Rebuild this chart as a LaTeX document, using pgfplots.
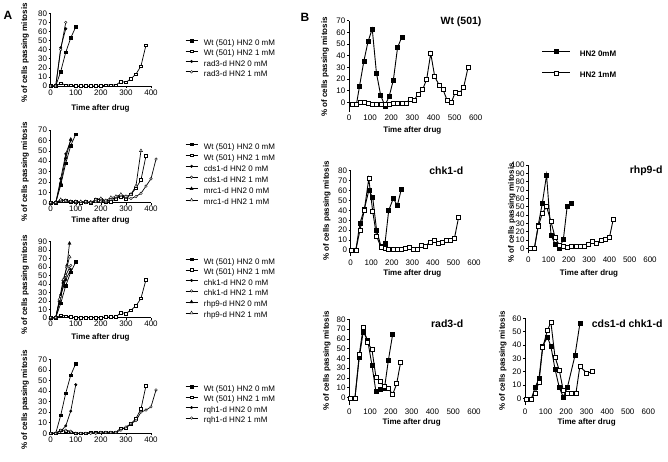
\documentclass[border=0pt]{standalone}
\usepackage{fontspec}
\setmainfont{Liberation Sans}
\usepackage{pgfplots}
\pgfplotsset{compat=1.18}
\pgfplotsset{
 base/.style={scale only axis, axis lines*=left, clip=false,
   tick align=outside, major tick length=2pt,
   tick style={black, line width=0.5pt},
   axis line style={black, line width=0.6pt},
   tick label style={font=\fontsize{8}{9}\selectfont, inner sep=1.5pt},
   /pgf/number format/assume math mode=true,
   legend cell align=left},
 apanel/.style={base, xmin=0, xmax=400, xtick={0,100,...,400}, width=100.3pt, ymin=0,
   every axis plot/.append style={line width=0.7pt},
   legend style={draw=none, fill=none, inner sep=0pt, anchor=north west,
     font=\fontsize{8}{9}\selectfont,
     nodes={inner sep=0pt, text height=6pt, text depth=1.5pt},
     /tikz/every odd column/.append style={column sep=6pt}},
   legend image code/.code={\draw[mark repeat=2, mark phase=2, ##1] plot coordinates {(0pt,2.5pt)(6pt,2.5pt)(12pt,2.5pt)};}},
 bpanel/.style={base, xmin=0, xmax=600, xtick={0,100,...,600},
   x axis line style={draw=none}, xtick style={draw=none},
   every axis plot/.append style={line width=0.9pt}},
 as0/.style={black, mark=square*, mark size=1.3pt, mark options={fill=black, line width=0.4pt}},
 as1/.style={black, mark=square*, mark size=1.3pt, mark options={fill=white, line width=0.4pt}},
 ac0/.style={black, mark=*, mark size=1.3pt, mark options={fill=black, line width=0.4pt}},
 ac1/.style={black, mark=*, mark size=1.3pt, mark options={fill=white, line width=0.4pt}},
 at0/.style={black, mark=triangle*, mark size=1.8pt, mark options={fill=black, line width=0.4pt}},
 at1/.style={black, mark=triangle*, mark size=1.8pt, mark options={fill=white, line width=0.4pt}},
 b0/.style={black, mark=square*, mark size=2pt, mark options={fill=black, line width=0.5pt}},
 b1/.style={black, mark=square*, mark size=2pt, mark options={fill=white, line width=0.5pt}},
}
\newcommand{\lab}{\fontsize{8}{9}\selectfont\bfseries}
\begin{document}
\begin{tikzpicture}
\useasboundingbox (0,0) rectangle (668pt,461pt);
% ---------------- Panel A1
\begin{axis}[apanel, at={(50.7pt,375pt)}, anchor=south west, height=72.7pt,
  ymax=80, ytick={0,10,...,80},
  legend style={at={(axis description cs:1.339,0.644)}, row sep=2.83pt}]
\addplot[as0] coordinates {(0,0)(20,0)(40,16)(60,37)(80,53)(100,65)};
\addplot[as1] coordinates {(0,0)(20,0)(40,3)(60,1)(80,1)(100,0)(120,0)(140,0)(160,0)(180,0)(200,0)(220,1)(240,1)(260,1)(280,5)(300,4)(320,8)(340,13)(360,22)(380,45)};
\addplot[ac0] coordinates {(0,0)(20,0)(40,42)(60,63)};
\addplot[ac1] coordinates {(0,0)(20,0)(40,40)(60,70)};
\legend{Wt (501) HN2 0 mM, Wt (501) HN2 1 mM, rad3-d HN2 0 mM, rad3-d HN2 1 mM}
\end{axis}
% ---------------- Panel A2
\begin{axis}[apanel, at={(50.7pt,258.3pt)}, anchor=south west, height=72.7pt,
  ymax=70, ytick={0,10,...,70},
  legend style={at={(axis description cs:1.339,0.8226)}, row sep=3.4pt}]
\addplot[as0] coordinates {(0,0)(20,0)(40,17)(60,38)(80,55)(100,66)};
\addplot[as1] coordinates {(0,0)(20,0)(40,2)(60,2)(80,1)(100,1)(120,0)(140,1)(160,0)(180,3)(200,3)(220,1)(240,1)(260,4)(280,6)(300,4)(320,8)(340,14)(360,22)(380,45)};
\addplot[ac0] coordinates {(0,0)(20,0)(40,23)(60,47)(80,60)};
\addplot[ac1] coordinates {(0,0)(20,0)(40,2)(60,2)(80,1)(100,0)(120,1)(140,0)(160,1)(180,1)(200,1)(220,1)(240,3)(260,5)(280,7)(300,5)(320,4)(340,6)(360,9)(380,16)(400,23)(420,42)};
\addplot[at0] coordinates {(0,0)(20,0)(40,19)(60,43)(80,61)};
\addplot[at1] coordinates {(0,0)(20,0)(40,3)(60,2)(80,1)(100,1)(120,1)(140,1)(160,0)(180,3)(200,4)(220,2)(240,5)(260,6)(280,8)(300,6)(320,8)(340,16)(360,50)};
\legend{Wt (501) HN2 0 mM, Wt (501) HN2 1 mM, cds1-d HN2 0 mM, cds1-d HN2 1 mM, mrc1-d HN2 0 mM, mrc1-d HN2 1 mM}
\end{axis}
% ---------------- Panel A3
\begin{axis}[apanel, at={(50.7pt,143.3pt)}, anchor=south west, height=76pt,
  ymax=90, ytick={0,10,...,90},
  legend style={at={(axis description cs:1.339,0.787)}, row sep=2.96pt}]
\addplot[as0] coordinates {(0,0)(20,0)(40,17)(60,38)(80,54)(100,66)};
\addplot[as1] coordinates {(0,0)(20,0)(40,3)(60,2)(80,1)(100,0)(120,0)(140,0)(160,0)(180,0)(200,0)(220,1)(240,1)(260,1)(280,6)(300,5)(320,9)(340,14)(360,23)(380,45)};
\addplot[ac0] coordinates {(0,0)(20,0)(40,27)(60,45)(80,57)};
\addplot[ac1] coordinates {(0,0)(20,0)(40,25)(60,50)(80,62)};
\addplot[at0] coordinates {(0,0)(20,0)(35,20)(50,42)(65,62)(75,88)};
\addplot[at1] coordinates {(0,0)(20,0)(35,22)(50,45)(65,60)(75,72)};
\legend{Wt (501) HN2 0 mM, Wt (501) HN2 1  mM, chk1-d HN2 0 mM, chk1-d HN2 1 mM, rhp9-d HN2 0 mM, rhp9-d HN2 1 mM}
\end{axis}
% ---------------- Panel A4
\begin{axis}[apanel, at={(50.7pt,27.7pt)}, anchor=south west, height=74pt,
  ymax=70, ytick={0,10,...,70},
  legend style={at={(axis description cs:1.339,0.650)}, row sep=2.9pt}]
\addplot[as0] coordinates {(0,0)(20,0)(40,17)(60,38)(80,55)(100,66)};
\addplot[as1] coordinates {(0,0)(20,0)(40,3)(60,2)(80,1)(100,0)(120,0)(140,0)(160,1)(180,1)(200,1)(220,1)(240,1)(260,1)(280,5)(300,5)(320,9)(340,14)(360,23)(380,45)};
\addplot[ac0] coordinates {(0,0)(20,0)(40,2)(60,7)(80,21)(100,46)};
\addplot[ac1] coordinates {(0,0)(20,0)(40,3)(60,3)(80,2)(100,0)(120,0)(140,0)(160,0)(180,0)(200,1)(220,1)(240,1)(260,1)(280,3)(300,6)(320,9)(340,12)(360,20)(380,22)(400,25)(420,41)};
\legend{Wt (501) HN2 0 mM, Wt (501) HN2 1 mM, rqh1-d HN2 0 mM, rqh1-d HN2 1 mM}
\end{axis}
% ---------------- Panel B1 Wt (501)
\begin{axis}[bpanel, at={(349pt,349.4pt)}, anchor=south west, width=126.7pt, height=90.9pt,
  ymin=-8, ymax=70, ytick={0,10,...,70},
  legend style={at={(axis description cs:1.521,0.683)}, anchor=north west, draw=none, fill=none, inner sep=0pt,
     font=\fontsize{8}{9}\selectfont\bfseries, row sep=12.5pt,
     nodes={inner sep=0pt, text height=6pt, text depth=1.5pt},
     /tikz/every odd column/.append style={column sep=9pt}},
  legend image code/.code={\draw[mark repeat=2, mark phase=2, #1] plot coordinates {(0pt,2.8pt)(14pt,2.8pt)(28pt,2.8pt)};}]
\addplot[b0] coordinates {(13,-2)(35,-2)(50,14)(70,35)(90,52)(110,63)(130,25)(150,6)(170,-3)(190,5)(210,19)(230,47)(250,56)};
\addplot[b1] coordinates {(13,-2)(35,-2)(52,0)(73,0)(93,-1)(112,-2)(131,-2)(152,-2)(172,-2)(191,-2)(210,-1)(229,-1)(251,-1)(270,-1)(289,3)(309,2)(328,7)(349,11)(368,20)(387,42)(406,22)(426,15)(445,11)(464,2)(485,0)(504,9)(524,8)(543,13)(564,30)};
\legend{HN2 0mM, HN2 1mM}
\end{axis}
% ---------------- Panel B2 chk1-d
\begin{axis}[bpanel, at={(350.7pt,205pt)}, anchor=south west, width=123.3pt, height=85.3pt,
  ymin=-6, ymax=80, ytick={0,10,...,80}]
\addplot[b0] coordinates {(5,0)(25,0)(45,27)(66,41)(88,60)(107,53)(126,20)(147,4)(167,7)(185,40)(207,52)(227,45)(246,61)};
\addplot[b1] coordinates {(5,0)(25,0)(45,20)(66,40)(88,72)(107,39)(126,14)(147,3)(167,2)(185,1)(205,1)(225,1)(245,1)(265,2)(285,3)(305,1)(325,1)(345,5)(365,4)(385,8)(405,10)(425,7)(445,8)(465,10)(485,10)(505,12)(525,33)};
\end{axis}
% ---------------- Panel B3 rhp9-d
\begin{axis}[bpanel, at={(528.3pt,207.7pt)}, anchor=south west, width=121.7pt, height=88.3pt,
  ymin=-6, ymax=100, ytick={0,10,...,100}]
\addplot[b0] coordinates {(8,0)(30,0)(49,28)(69,54)(90,88)(112,16)(132,5)(153,0)(173,11)(192,51)(214,54)};
\addplot[b1] coordinates {(8,0)(30,0)(49,26)(69,42)(90,50)(112,32)(132,13)(153,4)(173,2)(194,1)(214,3)(235,2)(255,2)(276,3)(296,5)(317,9)(337,6)(358,10)(378,11)(400,13)(419,35)};
\end{axis}
% ---------------- Panel B4 rad3-d
\begin{axis}[bpanel, at={(349.3pt,55.9pt)}, anchor=south west, width=124.7pt, height=85.8pt,
  ymin=-8, ymax=80, ytick={0,10,...,80}]
\addplot[b0] coordinates {(6,-1)(27,-1)(48,41)(67,67)(88,59)(109,33)(128,6)(148,8)(169,9)(188,38)(209,65)};
\addplot[b1] coordinates {(6,-1)(27,-1)(48,44)(67,72)(88,56)(109,49)(128,21)(148,16)(169,11)(188,9)(209,3)(228,14)(247,36)};
\end{axis}
% ---------------- Panel B5 cds1-d chk1-d
\begin{axis}[bpanel, at={(525pt,56pt)}, anchor=south west, width=123.3pt, height=86.7pt,
  ymin=-5, ymax=60, ytick={0,10,...,60}]
\addplot[b0] coordinates {(8,-1)(29,-1)(49,8)(68,15)(86,39)(109,46)(126,39)(146,22)(167,8)(186,1)(206,8)(243,32)(267,56)};
\addplot[b1] coordinates {(8,-1)(29,-1)(49,4)(68,12)(86,38)(109,51)(126,57)(146,31)(167,21)(186,6)(206,4)(227,4)(248,4)(267,24)(300,19)(329,20)};
\end{axis}
% ---------------- texts
\node[font=\fontsize{12}{14}\selectfont\bfseries] at (8pt,446pt) {A};
\node[font=\fontsize{12}{14}\selectfont\bfseries] at (305pt,444pt) {B};
\foreach \yy in {408,289,176,61} {\node[rotate=90, font=\lab] at (25pt,\yy pt) {\% of cells passing mitosis};}
\foreach \yy in {353,240.3,124} {\node[font=\lab] at (100.5pt,\yy pt) {Time after drug};}
\node[rotate=90, font=\lab] at (325pt,394pt) {\% of cells passing mitosis};
\node[rotate=90, font=\lab] at (326.7pt,250pt) {\% of cells passing mitosis};
\node[rotate=90, font=\lab] at (511.7pt,248pt) {\% of cells passing mitosis};
\node[rotate=90, font=\lab] at (326.7pt,100pt) {\% of cells passing mitosis};
\node[rotate=90, font=\lab] at (502.7pt,100pt) {\% of cells passing mitosis};
\node[font=\lab] at (412.3pt,331pt) {Time after drug};
\node[font=\lab] at (412.3pt,188pt) {Time after drug};
\node[font=\lab] at (589pt,188pt) {Time after drug};
\node[font=\lab] at (411.7pt,38.5pt) {Time after drug};
\node[font=\lab] at (586.7pt,38.5pt) {Time after drug};
\node[font=\fontsize{10.5}{12}\selectfont\bfseries, anchor=east] at (485pt,439.3pt) {Wt (501)};
\node[font=\fontsize{10.5}{12}\selectfont\bfseries, anchor=east] at (466.7pt,290.3pt) {chk1-d};
\node[font=\fontsize{10.5}{12}\selectfont\bfseries, anchor=east] at (666pt,290.3pt) {rhp9-d};
\node[font=\fontsize{10.5}{12}\selectfont\bfseries, anchor=east] at (466.7pt,137.7pt) {rad3-d};
\node[font=\fontsize{10.5}{12}\selectfont\bfseries, anchor=east] at (666pt,137.7pt) {cds1-d chk1-d};
\end{tikzpicture}
\end{document}
